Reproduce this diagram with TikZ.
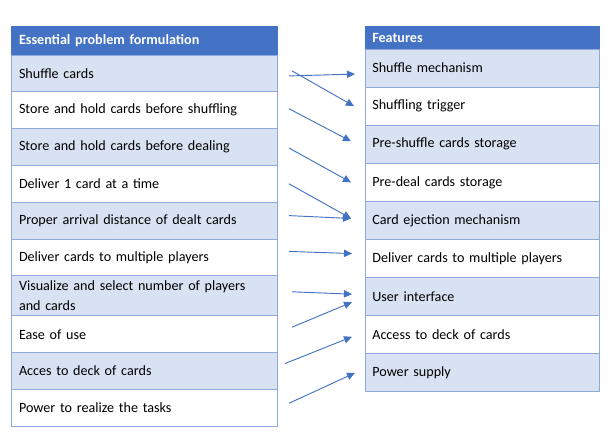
\documentclass[tikz,border=0pt]{standalone}
\usepackage{fontspec}
\setmainfont{Carlito}
\usetikzlibrary{arrows.meta,positioning}
\definecolor{headblue}{RGB}{68,114,196}
\definecolor{rowblue}{RGB}{217,226,243}
\definecolor{gridblue}{RGB}{142,170,219}

\begin{document}
\begin{tikzpicture}[
    node distance=0pt,
    >={Triangle[length=6pt,width=5.5pt]}
]

\tikzset{
    prob/.style={
        rectangle,
        draw=gridblue,
        line width=0.75pt,
        fill=white,
        outer sep=0pt,
        inner xsep=6pt,
        minimum width=199.5pt,
        text width=187.5pt,
        minimum height=27.6pt,
        align=left,
        font=\fontsize{10.6}{15}\selectfont
    },
    feat/.style={
        prob,
        inner xsep=5.5pt,
        minimum width=175.5pt,
        text width=164.5pt,
        minimum height=28.58pt
    },
    shade/.style={fill=rowblue},
    head/.style={
        fill=headblue,
        draw=headblue,
        text=white,
        font=\fontsize{10.6}{15}\selectfont\bfseries
    },
    link/.style={->,draw=headblue,line width=0.7pt}
}

\useasboundingbox (0,0) rectangle (458.25pt,-333pt);

% problem formulation column
\node[prob,head,minimum height=21.75pt,anchor=north west] (problem)
at (8.25pt,-19.5pt) {Essential problem formulation};

\node[prob,shade,below=of problem] (shuffle) {Shuffle cards};
\node[prob,below=of shuffle] (storeshuf) {Store and hold cards before shuffling};
\node[prob,shade,below=of storeshuf] (storedeal) {Store and hold cards before dealing};
\node[prob,below=of storedeal] (deliverone) {Deliver 1 card at a time};
\node[prob,shade,below=of deliverone] (arrival) {Proper arrival distance of dealt cards};
\node[prob,below=of arrival] (delivermulti) {Deliver cards to multiple players};
\node[prob,shade,below=of delivermulti,minimum height=30pt] (visualize)
{Visualize and select number of players\\and cards};
\node[prob,below=of visualize] (ease) {Ease of use};
\node[prob,shade,below=of ease] (access) {Acces to deck of cards};
\node[prob,below=of access] (power) {Power to realize the tasks};

% features column
\node[feat,head,minimum height=17.25pt,anchor=north west] (features)
at (273.75pt,-19.5pt) {Features};

\node[feat,shade,below=of features] (fshuffle) {Shuffle mechanism};
\node[feat,below=of fshuffle] (ftrigger) {Shuffling trigger};
\node[feat,shade,below=of ftrigger] (fpreshuffle) {Pre-shuffle cards storage};
\node[feat,below=of fpreshuffle] (fpredeal) {Pre-deal cards storage};
\node[feat,shade,below=of fpredeal] (fejection) {Card ejection mechanism};
\node[feat,below=of fejection] (fdeliver) {Deliver cards to multiple players};
\node[feat,shade,below=of fdeliver] (fui) {User interface};
\node[feat,below=of fui] (faccess) {Access to deck of cards};
\node[feat,shade,below=of faccess] (fpower) {Power supply};

% mapping
\draw[link] ([xshift=9pt,yshift=-1.9pt]shuffle.east) -- ([xshift=-7.5pt,yshift=-4.5pt]fshuffle.west);
\draw[link] ([xshift=11.25pt,yshift=1.9pt]shuffle.east) -- ([xshift=-8.25pt]ftrigger.west);
\draw[link] ([xshift=9pt,yshift=1.1pt]storeshuf.east) -- ([xshift=-10.5pt,yshift=2.25pt]fpreshuffle.west);
\draw[link] ([xshift=9pt,yshift=-0.75pt]storedeal.east) -- ([xshift=-10.5pt]fpredeal.west);
\draw[link] ([xshift=9pt]deliverone.east) -- ([xshift=-10.5pt,yshift=1.5pt]fejection.west);
\draw[link] ([xshift=9pt,yshift=3.75pt]arrival.east) -- ([xshift=-10.5pt,yshift=1.5pt]fejection.west);
\draw[link] ([xshift=9pt,yshift=4.5pt]delivermulti.east) -- ([xshift=-9.75pt,yshift=3.75pt]fdeliver.west);
\draw[link] ([xshift=11.25pt,yshift=3pt]visualize.east) -- ([xshift=-9.75pt,yshift=1.9pt]fui.west);
\draw[link] ([xshift=11.25pt,yshift=5.25pt]ease.east) -- ([xshift=-9.75pt,yshift=-4.1pt]fui.west);
\draw[link] ([xshift=6pt,yshift=5.6pt]access.east) -- ([xshift=-9.75pt,yshift=-1.5pt]faccess.west);
\draw[link] ([xshift=9pt,yshift=3.4pt]power.east) -- ([xshift=-7.5pt]fpower.west);

\end{tikzpicture}
\end{document}
